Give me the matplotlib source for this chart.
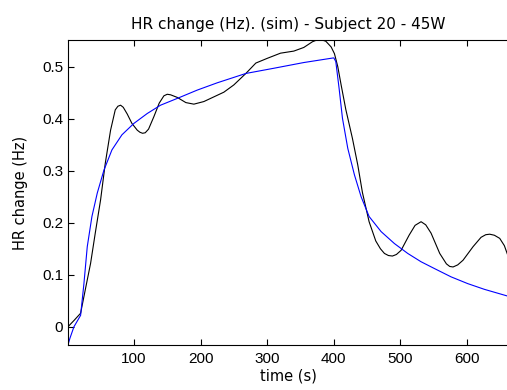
import numpy as np
import matplotlib.pyplot as plt

t_meas = [1, 10, 20, 27, 35, 42, 50, 57, 65, 72, 76, 80, 84, 90, 97, 105, 109, 113, 117, 122,
          130, 138, 145, 150, 155, 165, 178, 190, 205, 220, 235, 250, 268, 283, 300, 320, 340,
          355, 368, 378, 388, 396, 401, 406, 411, 418, 428, 436, 443, 453, 463, 470, 476, 482,
          488, 494, 501, 513, 522, 531, 538, 546, 559, 569, 574, 579, 586, 594, 609, 621, 628,
          634, 641, 649, 656, 661]
hr_meas = [0.0, 0.012, 0.026, 0.071, 0.122, 0.18, 0.244, 0.314, 0.378, 0.417, 0.424, 0.426,
           0.422, 0.409, 0.391, 0.378, 0.374, 0.372, 0.373, 0.38, 0.404, 0.43, 0.444, 0.447,
           0.446, 0.441, 0.431, 0.428, 0.433, 0.442, 0.451, 0.465, 0.487, 0.507, 0.516, 0.526,
           0.530, 0.537, 0.548, 0.553, 0.549, 0.538, 0.525, 0.50, 0.465, 0.418, 0.362, 0.311,
           0.258, 0.202, 0.165, 0.150, 0.141, 0.137, 0.136, 0.139, 0.147, 0.176, 0.195, 0.202,
           0.196, 0.180, 0.141, 0.121, 0.116, 0.115, 0.119, 0.128, 0.154, 0.172, 0.177, 0.178,
           0.176, 0.170, 0.156, 0.138]

t_sim = [1, 4, 10, 20, 25, 30, 37, 45, 55, 67, 82, 100, 120, 140, 165, 195, 225, 268, 310, 355,
         400, 403, 408, 413, 421, 431, 441, 453, 471, 491, 511, 531, 551, 576, 601, 626, 661]
hr_sim = [-0.035, -0.022, 0.0, 0.022, 0.083, 0.154, 0.212, 0.257, 0.301, 0.34, 0.369, 0.391,
          0.41, 0.426, 0.439, 0.455, 0.469, 0.487, 0.497, 0.508, 0.517, 0.51, 0.458, 0.401,
          0.343, 0.292, 0.25, 0.212, 0.183, 0.160, 0.141, 0.125, 0.112, 0.096, 0.083, 0.072,
          0.059]

xticks = [100, 200, 300, 400, 500, 600]
yticks = [0, 0.1, 0.2, 0.3, 0.4, 0.5]
ytick_labels = ['0', '0.1', '0.2', '0.3', '0.4', '0.5']

plt.rcParams['font.family'] = ['Liberation Sans', 'DejaVu Sans']
plt.rcParams['font.size'] = 11

fig = plt.figure(figsize=(5.07, 3.9), dpi=100)
ax = fig.add_axes([0.134, 0.1154, 0.870, 0.7816])

ax.plot(t_meas, hr_meas, color='black', lw=0.8)
ax.plot(t_sim, hr_sim, color='blue', lw=0.8)

ax.set_xlim(1, 663)
ax.set_ylim(-0.035, 0.551)
ax.set_xticks(xticks)
ax.set_yticks(yticks)
ax.set_yticklabels(ytick_labels)
ax.tick_params(direction='in', top=True, right=False, length=4, width=0.8)
ax.tick_params(axis='x', pad=5)
ax.tick_params(axis='y', pad=3.5)
for s in ax.spines.values():
    s.set_linewidth(0.8)

lab = dict(family=['DejaVu Sans'], fontsize=10.5)
ax.set_title('HR change (Hz). (sim) - Subject 20 - 45W', pad=8,
             family=['DejaVu Sans'], fontsize=11)
ax.set_xlabel('time (s)', labelpad=2, **lab)
ax.set_ylabel('HR change (Hz)', labelpad=10, **lab)

fig.savefig('out.png', dpi=100)
